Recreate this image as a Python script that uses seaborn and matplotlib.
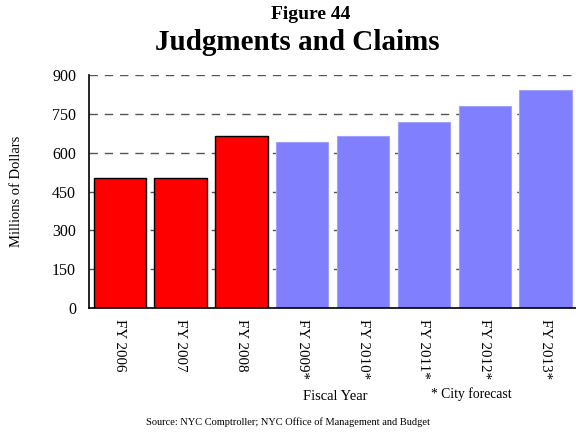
import pandas as pd
import seaborn as sns
import matplotlib.pyplot as plt

years = ["FY 2006", "FY 2007", "FY 2008", "FY 2009*", "FY 2010*",
         "FY 2011*", "FY 2012*", "FY 2013*"]
values = [504, 501, 664, 640, 664, 719, 779, 843]
kind = ["Actual", "Actual", "Actual", "Forecast", "Forecast",
        "Forecast", "Forecast", "Forecast"]
yticks = [0, 150, 300, 450, 600, 750, 900]

df = pd.DataFrame({"year": years, "value": values, "kind": kind})

sns.set_style("white")
plt.rcParams["font.family"] = ["Liberation Serif", "DejaVu Serif"]
plt.rcParams["text.color"] = "black"
plt.rcParams["axes.labelcolor"] = "black"
plt.rcParams["xtick.color"] = "black"
plt.rcParams["ytick.color"] = "black"

fig = plt.figure(figsize=(5.76, 4.34), dpi=100)
ax = fig.add_axes([0.155, 0.29, 0.845, 0.537])

sns.barplot(data=df, x="year", y="value", hue="kind", dodge=False,
            palette={"Actual": "#ff0000", "Forecast": "#8080ff"},
            saturation=1, width=0.86, legend=False, ax=ax, zorder=2)

for patch, k in zip(ax.patches, kind):
    if k == "Actual":
        patch.set_edgecolor("black")
        patch.set_linewidth(1.0)
    else:
        patch.set_edgecolor("#a0a0ff")
        patch.set_linewidth(0.8)

ax.set_ylim(0, 900)
ax.set_xlim(-0.5, len(years) - 0.5)
ax.set_yticks(yticks)
ax.set_yticklabels([str(t) for t in yticks], fontsize=11.5)
ax.set_xticks(range(len(years)))
ax.set_xticklabels(years, rotation=-90, fontsize=10.8, va="top", ha="center")

for t in yticks[1:]:
    ax.axhline(t, color="#555555", linestyle=(0, (6, 5)), linewidth=1, zorder=1)

for side in ["top", "right"]:
    ax.spines[side].set_visible(False)
for side in ["left", "bottom"]:
    ax.spines[side].set_color("black")
    ax.spines[side].set_linewidth(1.2)

ax.tick_params(axis="y", direction="out", length=6.5, width=1, pad=3)
ax.tick_params(axis="x", direction="out", length=6, width=1, pad=1.5)
ax.set_xlabel("")
ax.set_ylabel("Millions of Dollars", fontsize=10.5, labelpad=21)

fig.text(0.54, 0.966, "Figure 44", ha="center", va="center", fontsize=14, fontweight="bold")
fig.text(0.516, 0.902, "Judgments and Claims", ha="center", va="center", fontsize=21, fontweight="bold")
fig.text(0.582, 0.087, "Fiscal Year", ha="center", va="center", fontsize=10.5)
fig.text(0.818, 0.091, "* City forecast", ha="center", va="center", fontsize=9.8)
fig.text(0.5, 0.027, "Source: NYC Comptroller; NYC Office of Management and Budget",
         ha="center", va="center", fontsize=7.5)

fig.savefig("out.png", dpi=100)
